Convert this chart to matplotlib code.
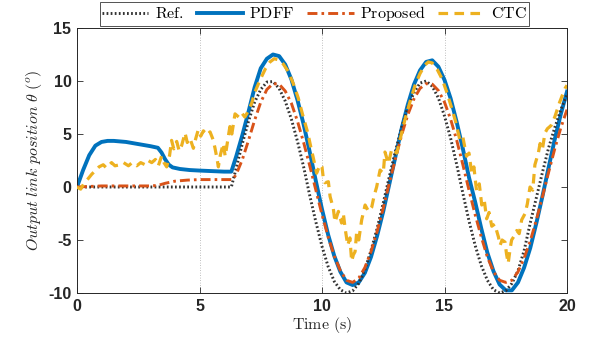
import matplotlib.pyplot as plt
from matplotlib.lines import Line2D

#%% Data
# Reference trajectory
t_ref = [0, 6.3, 6.5, 6.75, 7.0, 7.25, 7.5, 7.75, 8.0, 8.25, 8.5, 8.75, 9.0, 9.25, 9.5, 9.75,
         10.0, 10.25, 10.5, 10.75, 11.0, 11.25, 11.5, 11.75, 12.0, 12.25, 12.5, 12.75, 13.0,
         13.25, 13.5, 13.75, 14.0, 14.25, 14.5, 14.75, 15.0, 15.25, 15.5, 15.75, 16.0, 16.25,
         16.5, 16.75, 17.0, 17.25, 17.5, 17.75, 18.0, 18.25, 18.5, 18.75, 19.0, 19.25, 19.5,
         19.75, 20.0]
y_ref = [0, 0, 1.8, 4.1, 6.2, 8.0, 9.2, 9.9, 9.95, 9.3, 8.1, 6.4, 4.3, 1.9, -0.8, -3.3,
         -5.6, -7.5, -8.9, -9.7, -10.0, -9.8, -9.1, -7.8, -6.0, -3.9, -1.5, 1.0, 3.4,
         5.6, 7.5, 8.9, 9.8, 10.0, 9.5, 8.4, 6.7, 4.6, 2.1, -0.6, -3.2, -5.5,
         -7.4, -8.8, -9.7, -10.0, -9.8, -9.1, -7.9, -6.0, -3.4, -1.0, 1.4, 3.7, 5.6,
         7.3, 8.7]

# PDFF
t_pdff = [0, 0.25, 0.5, 0.75, 1.0, 1.25, 1.5, 1.75, 2.0, 2.5, 3.0, 3.3, 3.45, 3.6, 3.75, 3.9,
          4.2, 4.6, 5.0, 5.5, 6.0, 6.3, 6.5, 6.75, 7.0, 7.25, 7.5, 7.75, 8.0, 8.25, 8.5, 8.75,
          9.0, 9.25, 9.5, 9.75, 10.0, 10.25, 10.5, 10.75, 11.0, 11.25, 11.5, 11.75, 12.0,
          12.25, 12.5, 12.75, 13.0, 13.25, 13.5, 13.75, 14.0, 14.25, 14.5, 14.75, 15.0,
          15.25, 15.5, 15.75, 16.0, 16.25, 16.5, 16.75, 17.0, 17.25, 17.5, 17.75, 18.0,
          18.25, 18.5, 18.75, 19.0, 19.25, 19.5, 19.75, 20.0]
y_pdff = [0, 1.6, 3.0, 3.9, 4.25, 4.35, 4.35, 4.3, 4.25, 4.05, 3.85, 3.7, 3.25, 2.6, 2.1, 1.85,
          1.7, 1.6, 1.55, 1.5, 1.45, 1.45, 2.9, 4.9, 7.1, 9.4, 11.2, 12.1, 12.5, 12.35, 11.55, 10.15,
          8.2, 5.9, 3.3, 0.55, -2.1, -4.5, -6.5, -8.0, -9.0, -9.25, -9.0, -8.1, -6.6,
          -4.6, -2.3, 0.3, 2.9, 5.5, 7.75, 9.65, 11.0, 11.8, 11.95, 11.35, 10.1,
          8.35, 6.1, 3.6, 0.9, -1.4, -3.9, -6.2, -7.95, -9.2, -9.75, -9.75, -9.0,
          -7.6, -5.75, -3.4, -0.85, 1.85, 4.5, 6.9, 9.0]

# Proposed
t_prop = [0, 1.0, 2.0, 3.0, 3.3, 3.6, 4.0, 4.5, 5.0, 6.35, 6.5, 6.75, 7.0, 7.25, 7.5, 7.75,
          8.0, 8.25, 8.5, 8.75, 9.0, 9.25, 9.5, 9.75, 10.0, 10.25, 10.5, 10.75, 11.0, 11.25,
          11.5, 11.75, 12.0, 12.25, 12.5, 12.75, 13.0, 13.25, 13.5, 13.75, 14.0, 14.25, 14.5,
          14.75, 15.0, 15.25, 15.5, 15.75, 16.0, 16.25, 16.5, 16.75, 17.0, 17.25, 17.5, 17.75,
          18.0, 18.25, 18.5, 18.75, 19.0, 19.25, 19.5, 19.75, 20.0]
y_prop = [0, 0.1, 0.1, 0.1, 0.15, 0.35, 0.55, 0.65, 0.7, 0.7, 1.2, 2.6, 4.4, 6.3, 8.0, 9.2,
          9.75, 9.7, 9.05, 7.9, 6.2, 4.2, 2.0, -0.3, -2.6, -4.7, -6.5, -7.9, -8.8, -9.0,
          -8.6, -7.6, -6.1, -4.2, -2.0, 0.4, 2.7, 4.9, 6.8, 8.3, 9.3, 9.75, 9.7,
          9.1, 8.0, 6.4, 4.4, 2.1, -0.3, -2.6, -4.7, -6.6, -8.0, -8.8, -9.0, -8.8,
          -8.0, -6.7, -5.1, -3.1, -0.9, 1.4, 3.6, 5.6, 7.3]

# CTC (noisy)
t_ctc = [0.0, 0.15, 0.3, 0.46, 0.6, 0.73, 0.9, 1.07, 1.2, 1.41, 1.55, 1.76, 1.9, 2.1, 2.25,
         2.44, 2.6, 2.78, 2.9, 3.05, 3.2, 3.32, 3.45, 3.55, 3.66, 3.78, 3.86, 3.95, 4.07, 4.17,
         4.27, 4.41, 4.5, 4.61, 4.75, 4.85, 4.95, 5.05, 5.16, 5.3, 5.43, 5.55, 5.63, 5.72,
         5.77, 5.85, 5.97, 6.05, 6.15, 6.24, 6.32, 6.45, 6.6, 6.72, 6.85, 6.95, 7.13, 7.27,
         7.47, 7.7, 7.88, 8.05, 8.22, 8.42, 8.62, 8.82, 9.03, 9.2, 9.42, 9.55, 9.65, 9.78,
         9.92, 10.0, 10.06, 10.12, 10.26, 10.33, 10.46, 10.53, 10.67, 10.8, 10.87, 10.95,
         11.05, 11.14, 11.21, 11.28, 11.35, 11.41, 11.5, 11.62, 11.76, 11.9, 12.03, 12.13,
         12.23, 12.37, 12.5, 12.57, 12.71, 12.85, 13.05, 13.2, 13.4, 13.6, 13.8, 14.0, 14.2,
         14.34, 14.5, 14.7, 14.9, 15.1, 15.3, 15.45, 15.63, 15.75, 15.9, 16.0, 16.11, 16.2,
         16.31, 16.42, 16.52, 16.62, 16.72, 16.82, 16.93, 17.05, 17.2, 17.27, 17.35, 17.47,
         17.53, 17.6, 17.68, 17.74, 17.85, 17.95, 18.05, 18.15, 18.29, 18.38, 18.49, 18.6,
         18.69, 18.83, 18.9, 19.0, 19.1, 19.2, 19.35, 19.5, 19.7, 19.92, 20.0]
y_ctc = [0.0, -0.2, 0.4, 0.8, 1.2, 1.5, 1.9, 2.1, 1.8, 2.3, 2.0, 2.1, 2.3, 2.0, 2.3,
         2.0, 2.3, 2.1, 2.5, 2.3, 2.6, 2.0, 2.9, 2.3, 1.9, 3.0, 4.4, 3.6, 4.3, 3.4,
         3.9, 5.1, 4.2, 4.6, 3.65, 4.6, 5.4, 4.8, 5.3, 4.9, 5.2, 4.5, 3.7, 2.6,
         1.9, 3.0, 4.1, 2.9, 4.4, 5.7, 5.0, 6.9, 6.6, 7.0, 6.6, 7.0, 7.9, 9.0,
         10.1, 11.2, 11.8, 12.1, 12.0, 11.6, 10.9, 9.8, 8.4, 6.9, 5.1, 3.7, 2.7, 1.3,
         2.1, 1.9, 0.7, 0.4, 0.5, -0.9, -2.0, -3.3, -2.3, -3.4, -2.5, -4.0,
         -5.5, -4.8, -7.0, -6.4, -6.1, -4.4, -5.0, -3.1, -1.7, -2.3, -1.9, -0.8,
         0.0, 1.6, 1.3, 3.3, 2.2, 3.6, 3.2, 4.6, 6.5, 8.1, 9.6, 10.7, 11.5,
         11.8, 11.7, 11.1, 10.2, 8.9, 7.4, 6.2, 4.4, 4.7, 2.9, 3.2, 1.3, 1.9,
         -0.4, 0.3, -1.7, -1.2, -3.0, -2.4, -3.7, -3.5, -4.7, -5.5, -5.0, -5.2,
         -6.3, -7.2, -5.8, -5.0, -4.6, -4.1, -4.4, -3.1, -2.5, -1.6, 0.0, -0.3,
         2.1, 3.2, 4.1, 3.6, 5.1, 5.5, 5.8, 6.6, 8.0, 9.3, 9.6]

labels = ['Ref.', 'PDFF', 'Proposed', 'CTC']
x_ticks = [0, 5, 10, 15, 20]
y_ticks = [-10, -5, 0, 5, 10, 15]

#%% Styles
plt.rcParams['mathtext.fontset'] = 'cm'
plt.rcParams['axes.unicode_minus'] = False

c_ref = '#333333'
c_pdff = '#0072BD'
c_prop = '#D95319'
c_ctc = '#EDB120'

ls_ref = (0, (0.6, 0.8))
ls_prop = (0, (3.4, 1.4, 0.9, 1.4))
ls_ctc = (0, (3.0, 2.0))

fig = plt.figure(figsize=(5.92, 3.41), dpi=100)
ax = fig.add_axes([77/592, 48/341, 490/592, 265/341])

ax.plot(t_ref, y_ref, color=c_ref, lw=2.1, linestyle=ls_ref, zorder=3)
ax.plot(t_pdff, y_pdff, color=c_pdff, lw=2.8, zorder=2)
ax.plot(t_prop, y_prop, color=c_prop, lw=2.1, linestyle=ls_prop, zorder=4)
ax.plot(t_ctc, y_ctc, color=c_ctc, lw=2.3, linestyle=ls_ctc, zorder=5)

ax.set_xlim(0, 20)
ax.set_ylim(-10, 15)
ax.set_xticks(x_ticks)
ax.set_yticks(y_ticks)
ax.tick_params(direction='in', top=True, right=True, length=4, width=0.6,
               colors='#262626', labelsize=11.5, pad=4)
for lab in ax.get_xticklabels() + ax.get_yticklabels():
    lab.set_fontfamily('Liberation Sans')
    lab.set_fontweight('bold')
for s in ax.spines.values():
    s.set_color('#262626')
    s.set_linewidth(0.7)
ax.xaxis.grid(True, linestyle=(0, (1, 2)), color='#aaaaaa', lw=0.6)
ax.set_axisbelow(True)

ax.set_xlabel(r'$\mathrm{Time\ (s)}$', fontsize=11.5, color='#262626', labelpad=1)
ax.set_ylabel(r'$\mathit{Output\ link\ position}\ \theta\ (^o)$', fontsize=11.5,
              color='#262626', labelpad=3)

#%% Legend on top
handles = [
    Line2D([], [], color=c_ref, lw=2.1, linestyle=ls_ref),
    Line2D([], [], color=c_pdff, lw=2.8),
    Line2D([], [], color=c_prop, lw=2.1, linestyle=ls_prop),
    Line2D([], [], color=c_ctc, lw=2.3, linestyle=ls_ctc),
]
leg = fig.legend(handles, [r'$\mathrm{' + s + '}$' for s in labels], loc='upper center',
                 bbox_to_anchor=(314.5/592, 339/341), ncol=4, fontsize=11.5, frameon=True,
                 fancybox=False, edgecolor='#262626', handlelength=2.9, handletextpad=0.4,
                 columnspacing=0.8, borderpad=0.15, borderaxespad=0)
leg.get_frame().set_linewidth(0.7)

fig.savefig('out.png', dpi=100)
